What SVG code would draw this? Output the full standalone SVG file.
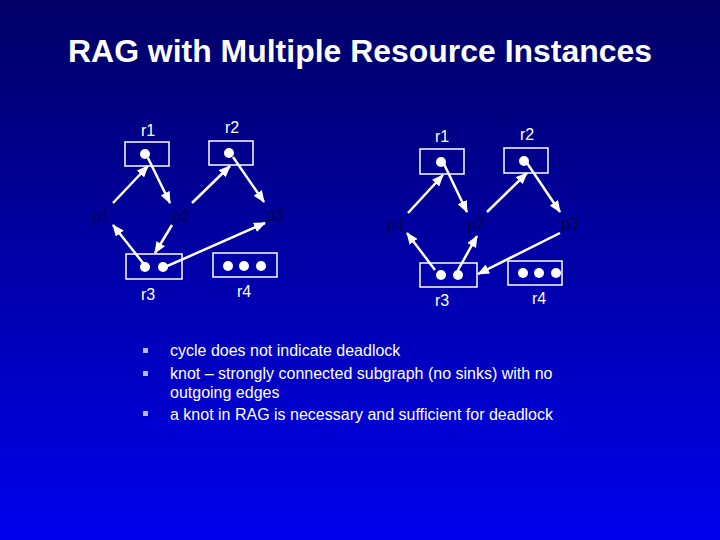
<svg xmlns="http://www.w3.org/2000/svg" width="720" height="540" viewBox="0 0 720 540">
<defs>
<linearGradient id="bg" x1="0" y1="0" x2="0" y2="1">
<stop offset="0" stop-color="#000066"/>
<stop offset="0.5" stop-color="#0000AA"/>
<stop offset="1" stop-color="#0000EE"/>
</linearGradient>
<marker id="ah" markerUnits="userSpaceOnUse" markerWidth="12" markerHeight="10" refX="11" refY="5" orient="auto">
<path d="M0,0 L12,5 L0,10 z" fill="#ffffff"/>
</marker>
<style>
.box{fill:none;stroke:#ffffff;stroke-width:1.5}
.dot{fill:#ffffff}
.rl{font-family:"Liberation Sans",Arial,sans-serif;font-size:16px;fill:#ffffff;text-anchor:middle}
.pl{font-family:"Liberation Sans",Arial,sans-serif;font-size:16px;fill:#00004a;text-anchor:middle}
.edge{stroke:#ffffff;stroke-width:2.5;fill:none;marker-end:url(#ah)}
.body{font-family:"Liberation Sans",Arial,sans-serif;font-size:16px;fill:#ffffff}
.bul{fill:#b4bce6}
</style>
</defs>
<rect x="0" y="0" width="720" height="540" fill="url(#bg)"/>
<text x="360" y="62" font-family="Liberation Sans,Arial,sans-serif" font-size="31" font-weight="bold" fill="#ffffff" text-anchor="middle" textLength="584" lengthAdjust="spacingAndGlyphs">RAG with Multiple Resource Instances</text>

<g id="connectors">
<!-- left graph -->
<line class="edge" x1="113" y1="203" x2="148" y2="166"/>
<line class="edge" x1="148" y1="158" x2="170" y2="203"/>
<line class="edge" x1="192" y1="203" x2="230" y2="166"/>
<line class="edge" x1="233" y1="157" x2="264" y2="202"/>
<line class="edge" x1="172" y1="225" x2="155" y2="253"/>
<line class="edge" x1="143" y1="263" x2="113" y2="225"/>
<line class="edge" x1="165" y1="267" x2="265" y2="223"/>
<!-- right graph -->
<line class="edge" x1="408" y1="213" x2="443" y2="175"/>
<line class="edge" x1="444" y1="164" x2="467" y2="212"/>
<line class="edge" x1="487" y1="212" x2="527" y2="173"/>
<line class="edge" x1="527" y1="163" x2="560" y2="212"/>
<line class="edge" x1="435" y1="270" x2="407" y2="233"/>
<line class="edge" x1="458" y1="270" x2="477" y2="236"/>
<line class="edge" x1="560" y1="233" x2="478" y2="274"/>
</g>

<!-- left graph nodes -->
<g id="L_r1">
<rect class="box" x="125" y="142" width="44" height="24"/>
<circle class="dot" cx="145" cy="154" r="5"/>
<text class="rl" x="148" y="136">r1</text>
</g>
<g id="L_r2">
<rect class="box" x="209" y="141" width="44" height="24"/>
<circle class="dot" cx="229" cy="153" r="5"/>
<text class="rl" x="232" y="133">r2</text>
</g>
<g id="L_r3">
<rect class="box" x="126" y="254" width="56" height="25"/>
<circle class="dot" cx="145" cy="267" r="5"/>
<circle class="dot" cx="163" cy="267" r="5"/>
<text class="rl" x="148" y="300">r3</text>
</g>
<g id="L_r4">
<rect class="box" x="213" y="253" width="64" height="24"/>
<circle class="dot" cx="228" cy="266" r="5"/>
<circle class="dot" cx="244" cy="266" r="5"/>
<circle class="dot" cx="261" cy="266" r="5"/>
<text class="rl" x="244" y="297">r4</text>
</g>
<g id="L_p1"><text class="pl" x="101" y="222">p1</text></g>
<g id="L_p2"><text class="pl" x="181" y="222">p2</text></g>
<g id="L_p3"><text class="pl" x="275" y="221">p3</text></g>

<!-- right graph nodes -->
<g id="R_r1">
<rect class="box" x="420" y="149" width="44" height="25"/>
<circle class="dot" cx="441" cy="162" r="5"/>
<text class="rl" x="442" y="142">r1</text>
</g>
<g id="R_r2">
<rect class="box" x="504" y="148" width="44" height="25"/>
<circle class="dot" cx="524" cy="161" r="5"/>
<text class="rl" x="527" y="140">r2</text>
</g>
<g id="R_r3">
<rect class="box" x="420" y="263" width="57" height="24"/>
<circle class="dot" cx="441" cy="275" r="5"/>
<circle class="dot" cx="458" cy="275" r="5"/>
<text class="rl" x="442" y="306">r3</text>
</g>
<g id="R_r4">
<rect class="box" x="508" y="261" width="54" height="24"/>
<circle class="dot" cx="523" cy="273" r="5"/>
<circle class="dot" cx="539" cy="273" r="5"/>
<circle class="dot" cx="556" cy="273" r="5"/>
<text class="rl" x="539" y="304">r4</text>
</g>
<g id="R_p1"><text class="pl" x="396" y="230">p1</text></g>
<g id="R_p2"><text class="pl" x="476" y="230">p2</text></g>
<g id="R_p3"><text class="pl" x="570" y="229">p3</text></g>

<g id="bullets">
<rect class="bul" x="143" y="348" width="5" height="5"/>
<rect class="bul" x="143" y="371" width="5" height="5"/>
<rect class="bul" x="143" y="411" width="5" height="5"/>
<text class="body" x="170" y="356">cycle does not indicate deadlock</text>
<text class="body" x="170" y="379">knot – strongly connected subgraph (no sinks) with no</text>
<text class="body" x="170" y="398">outgoing edges</text>
<text class="body" x="170" y="420">a knot in RAG is necessary and sufficient for deadlock</text>
</g>
</svg>
